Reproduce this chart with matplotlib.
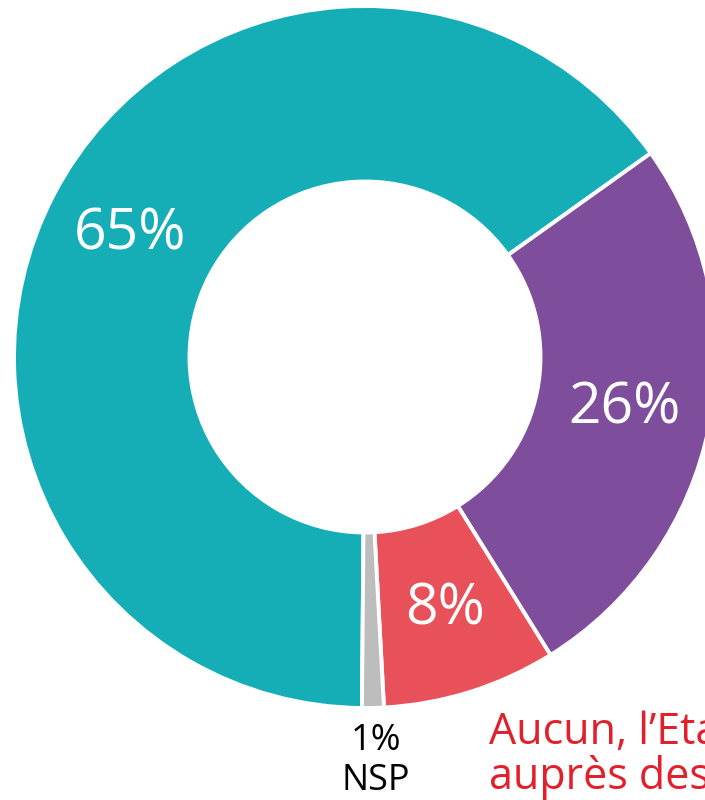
import matplotlib.pyplot as plt
import numpy as np

plt.rcParams['font.family'] = ['Open Sans', 'DejaVu Sans']

# Données du graphique
labels = ["Oui", "Plutôt", "Aucun", "NSP"]
values = [65, 26, 8, 1]
colors = ["#15aeb7", "#7e4e9c", "#e8505a", "#bdbdbd"]
legend_lines = ["Aucun, l’Etat", "auprès des"]

fig = plt.figure(figsize=(7.05, 8), dpi=100)
ax = fig.add_axes([0, 0, 1, 1])

# Centre et rayon en pixels
cx, cy, R = 365, 800 - 357, 351

def pct_label(p):
    return "" if p < 2 else f"{p:.0f}%"

wedges, texts, autotexts = ax.pie(
    values, colors=colors, startangle=-90.5, counterclock=False,
    radius=R, center=(cx, cy),
    wedgeprops=dict(width=R * 0.5, edgecolor="white", linewidth=2.8),
    autopct=pct_label, pctdistance=0.755,
    textprops=dict(color="white", fontsize=41),
)

# Étiquette NSP sous la tranche grise
w = wedges[-1]
mid = np.deg2rad((w.theta1 + w.theta2) / 2)
x_nsp = cx + R * np.cos(mid)
y_nsp = cy + R * np.sin(mid)
ax.text(x_nsp + 3, y_nsp - 15, f"{values[-1]}%\n{labels[-1]}", ha="center", va="top",
        fontsize=26, color="black", linespacing=1.15)

# Texte de légende en rouge (coupé au bord)
ax.text(489, 800 - 744, legend_lines[0], ha="left", va="baseline", fontsize=31, color="#e2202c")
ax.text(489, 800 - 789, legend_lines[1], ha="left", va="baseline", fontsize=31, color="#e2202c")

ax.set_xlim(0, 705)
ax.set_ylim(0, 800)
ax.set_aspect("equal")
ax.axis("off")

fig.savefig("out.png", dpi=100)
